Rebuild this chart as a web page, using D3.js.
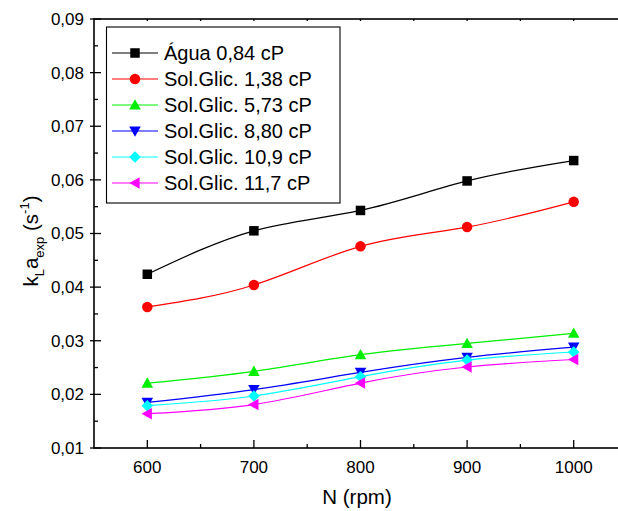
<!DOCTYPE html>
<html><head><meta charset="utf-8">
<script src="https://cdn.jsdelivr.net/npm/d3@7"></script>
<style>body{margin:0;background:#fff}svg{display:block;font-family:"Liberation Sans",Arial,sans-serif}</style>
</head><body><svg id="c" width="618" height="511"></svg>
<script>
const rpm = [600, 700, 800, 900, 1000];
const seriesNames = ["Água 0,84 cP","Sol.Glic. 1,38 cP","Sol.Glic. 5,73 cP","Sol.Glic. 8,80 cP","Sol.Glic. 10,9 cP","Sol.Glic. 11,7 cP"];
const agua   = [0.0424, 0.0505, 0.0543, 0.0598, 0.0636];
const sg138  = [0.0363, 0.0404, 0.0476, 0.0512, 0.0559];
const sg573  = [0.0221, 0.0243, 0.0274, 0.0295, 0.0314];
const sg880  = [0.0185, 0.0209, 0.0241, 0.0269, 0.0288];
const sg109  = [0.0179, 0.0197, 0.0233, 0.0264, 0.0279];
const sg117  = [0.0164, 0.0181, 0.0221, 0.0251, 0.0265];
const colors = ["#000000","#ff0000","#00ee00","#0000ff","#00ffff","#ff00ff"];
const symbols = ["square","circle","up","down","diamond","left"];
const yTicks = [0.01,0.02,0.03,0.04,0.05,0.06,0.07,0.08,0.09];
const xTicks = [600,700,800,900,1000];

const allSeries = [agua, sg138, sg573, sg880, sg109, sg117];
const svg = d3.select("#c");
const L = 94, R = 627, T = 19, B = 448;
const x = d3.scaleLinear().domain([550, 1050]).range([L, R]);
const y = d3.scaleLinear().domain([0.01, 0.09]).range([B, T]);
const fmt = d => d3.format(".2f")(d).replace(".", ",");

// frame
svg.append("rect").attr("x", L).attr("y", T).attr("width", R - L).attr("height", B - T)
  .attr("fill", "none").attr("stroke", "#000").attr("stroke-width", 1.6);

// left axis ticks
const yMinor = d3.range(0.015, 0.09, 0.01);
svg.append("g").selectAll("line").data(yTicks).join("line")
  .attr("x1", L - 4).attr("x2", L + 7).attr("y1", d => y(d)).attr("y2", d => y(d))
  .attr("stroke", "#000").attr("stroke-width", 1.3);
svg.append("g").selectAll("line").data(yMinor).join("line")
  .attr("x1", L).attr("x2", L + 4).attr("y1", d => y(d)).attr("y2", d => y(d))
  .attr("stroke", "#000").attr("stroke-width", 1.3);
svg.append("g").selectAll("text").data(yTicks).join("text")
  .attr("x", L - 10).attr("y", d => y(d)).attr("dy", "0.35em")
  .attr("text-anchor", "end").attr("font-size", 17).text(fmt);

// bottom axis ticks
const xMinor = [650, 750, 850, 950];
svg.append("g").selectAll("line").data(xTicks).join("line")
  .attr("x1", d => x(d)).attr("x2", d => x(d)).attr("y1", B).attr("y2", B - 8)
  .attr("stroke", "#000").attr("stroke-width", 1.3);
svg.append("g").selectAll("line").data(xMinor).join("line")
  .attr("x1", d => x(d)).attr("x2", d => x(d)).attr("y1", B).attr("y2", B - 4)
  .attr("stroke", "#000").attr("stroke-width", 1.3);
svg.append("g").selectAll("text").data(xTicks).join("text")
  .attr("x", d => x(d)).attr("y", B + 25)
  .attr("text-anchor", "middle").attr("font-size", 17).text(d => d);

// top axis tiny ticks
svg.append("g").selectAll("line").data(xTicks.concat(xMinor)).join("line")
  .attr("x1", d => x(d)).attr("x2", d => x(d)).attr("y1", T).attr("y2", T + 2)
  .attr("stroke", "#000").attr("stroke-width", 1.3);

// axis titles
svg.append("text").attr("x", 357).attr("y", 504).attr("text-anchor", "middle")
  .attr("font-size", 20.5).text("N (rpm)");
const yl = svg.append("text").attr("transform", "translate(38,241) rotate(-90)")
  .attr("text-anchor", "middle").attr("font-size", 20.5);
yl.append("tspan").text("k");
yl.append("tspan").attr("font-size", 13).attr("dy", 6).text("L");
yl.append("tspan").attr("dy", -6).text("a");
yl.append("tspan").attr("font-size", 13).attr("dy", 6).text("exp");
yl.append("tspan").attr("dy", -6).text(" (s");
yl.append("tspan").attr("font-size", 13).attr("dy", -9).text("-1");
yl.append("tspan").attr("dy", 9).text(")");

// markers
function marker(g, type, cx, cy, color, s) {
  const h = s / 2;
  let p;
  if (type === "square") p = g.append("rect").attr("x", cx - h).attr("y", cy - h).attr("width", s).attr("height", s);
  else if (type === "circle") p = g.append("circle").attr("cx", cx).attr("cy", cy).attr("r", h + 0.5);
  else {
    let pts;
    const k = h + 1;
    if (type === "up") pts = [[cx, cy - k], [cx + k, cy + k * 0.8], [cx - k, cy + k * 0.8]];
    if (type === "down") pts = [[cx, cy + k], [cx + k, cy - k * 0.8], [cx - k, cy - k * 0.8]];
    if (type === "left") pts = [[cx - k, cy], [cx + k * 0.8, cy - k], [cx + k * 0.8, cy + k]];
    if (type === "diamond") pts = [[cx, cy - k], [cx + k, cy], [cx, cy + k], [cx - k, cy]];
    p = g.append("polygon").attr("points", pts.map(q => q.join(",")).join(" "));
  }
  p.attr("fill", color);
}

// series
const line = d3.line().x(d => x(d[0])).y(d => y(d[1])).curve(d3.curveNatural);
allSeries.forEach((vals, i) => {
  const pts = rpm.map((r, j) => [r, vals[j]]);
  svg.append("path").attr("d", line(pts)).attr("fill", "none")
    .attr("stroke", colors[i]).attr("stroke-width", 1.2);
});
allSeries.forEach((vals, i) => {
  const g = svg.append("g");
  rpm.forEach((r, j) => marker(g, symbols[i], x(r), y(vals[j]), colors[i], 9.5));
});

// legend
const lg = svg.append("g");
lg.append("rect").attr("x", 106.5).attr("y", 27).attr("width", 233.5).attr("height", 176)
  .attr("fill", "#fff").attr("stroke", "#000").attr("stroke-width", 1.1);
seriesNames.forEach((n, i) => {
  const cy = 53 + i * 26;
  lg.append("line").attr("x1", 112).attr("x2", 158).attr("y1", cy).attr("y2", cy)
    .attr("stroke", colors[i]).attr("stroke-width", 1.2);
  marker(lg, symbols[i], 135, cy, colors[i], 9.5);
  lg.append("text").attr("x", 164).attr("y", cy).attr("dy", "0.36em")
    .attr("font-size", 20).text(n);
});
</script></body></html>
